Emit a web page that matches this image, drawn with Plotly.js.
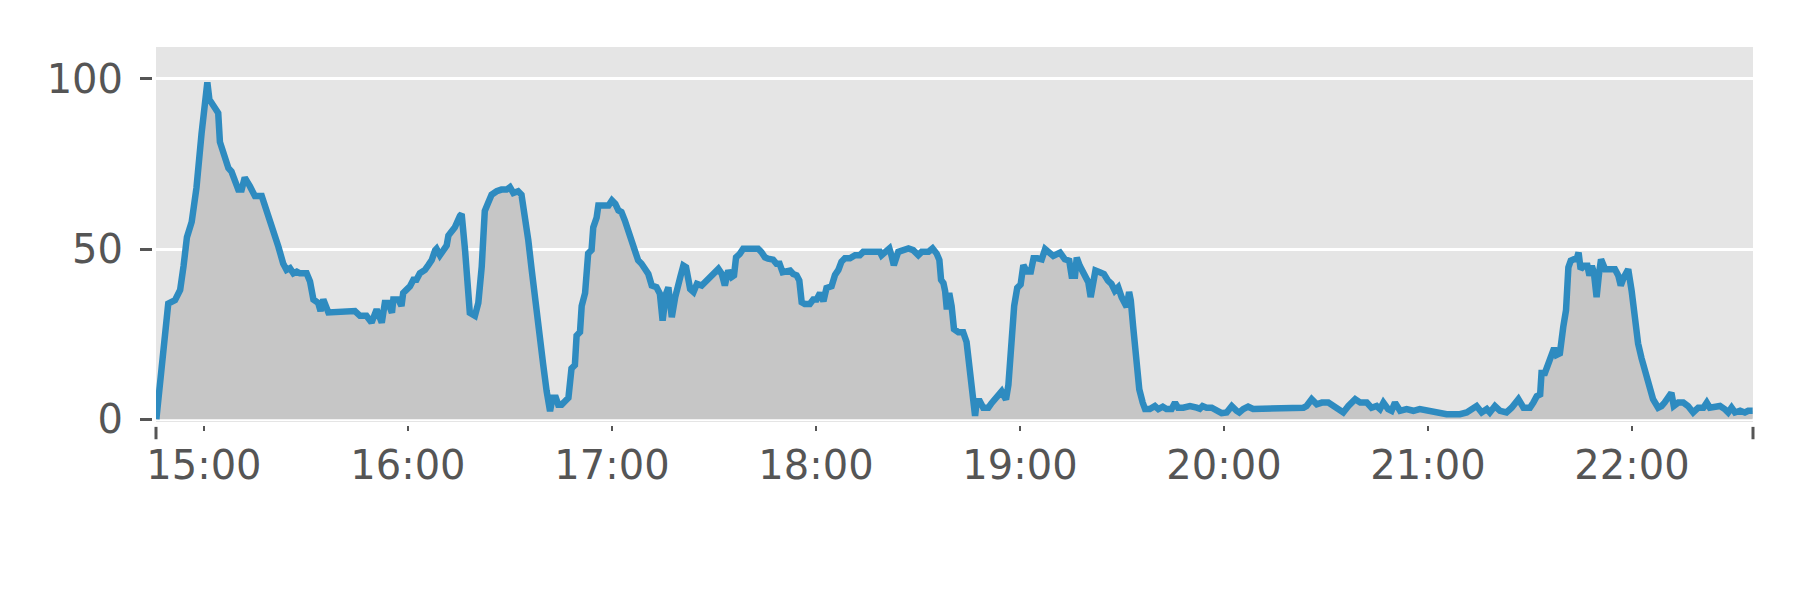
<!DOCTYPE html>
<html>
<head>
<meta charset="utf-8">
<script src="https://cdn.plot.ly/plotly-3.0.1.min.js"></script>
<style>html,body{margin:0;padding:0;background:#fff;}#chart{width:1800px;height:600px;}</style>
</head>
<body>
<div id="chart"></div>
<script>
// minutes after 15:00 (the sample times)
const minutesAfter1500 = [
-14,-12.2,-10.5,-8.5,-7,-6,-5,-3.6,-2.2,-0.7,0.3,1,1.6,2.7,4.2,4.7,6.2,7.2,8.1,10.1,11.1,12,13.5,15,17,17.9,19.4,20.4,20.9,21.9,23.3,24.3,25.3,26.3,27.3,28.2,30.2,31.2,32.2,33.6,34.3,35.1,36.6,39,43,44.4,45.9,47.8,
49.3,50.8,52.3,53.2,54.2,55.3,55.7,57.2,58.1,58.6,59.6,60.6,61.6,62.5,63.5,65,66,67,68,68.4,69.4,70.4,71.4,71.9,72.9,73.8,75.3,75.8,76.8,77.8,78.2,79.7,80.7,81.7,82.6,83.6,84.6,86.1,87.5,89,90,91,92.4,93.4,94.4,95.4,96.4,97.4,98.3,99.3,99.8,100.8,101.8,102.5,103.5,104.2,105.2,106.2,107.2,108.1,109.1,109.6,110.6,111.1,112.1,113,114,114.5,115.5,
116,117,118,119,120,121,121.9,122.8,123.8,124.8,125.8,126.8,127.7,128.7,129.7,130.7,131.7,133.1,134.1,134.9,135.9,136.6,137.6,138.6,140.1,141,141.8,143,144,145,146.4,147.4,148.4,149.3,150.3,151.3,152.3,153.2,154.2,155.2,155.9,156.5,157.6,158.6,159.6,161.5,163,164,165,165.9,167.4,168.4,169.3,170.2,171.4,172.4,173.3,174.3,175.1,175.8,176.7,178.2,
179.2,180.2,181.2,182.2,183.1,184.6,185.6,186.6,187.5,188.5,190,191.5,192.9,193.9,196.4,198.8,199.3,200.3,201.6,202.2,202.9,204.2,205.7,207.2,208.6,210.1,211.1,213.1,214.3,215.5,216.3,216.8,217.5,218,218.5,219.2,219.9,220.6,221.9,223.3,224.3,225.1,225.8,226.3,226.8,227.3,228.2,229.2,230.7,231.7,232.6,233.6,234.6,235.1,235.9,236.6,237.1,237.6,238.3,239.2,240.2,241,242,243.2,244,245.2,
246.4,247.4,248.4,249.8,251.8,253.2,254.5,255.2,256.2,256.7,257.6,258.8,260.1,260.8,261.5,262.2,263.5,264.7,265.9,266.9,267.9,268.9,269.9,270.7,271.4,272.1,272.6,273.3,274.1,275.1,276.1,276.8,278.2,279.7,280.7,282,283.1,284.6,285.6,286.5,288,290,292,292.9,293.7,294.9,296.4,297.8,299.3,300.8,302.3,303.7,304.5,305.7,307.1,308.6,
309.6,311.6,313.6,315.5,317.5,319.4,321.4,323.4,324.3,325.8,327.3,328.8,330.7,332.2,333.6,335.1,336.6,338.6,340.1,342,343.4,344.9,345.9,346.9,348.3,349.3,350.3,351.8,353.7,355.7,357.6,359.6,361.5,363.5,365.5,367.5,369.4,371.4,372.8,374.3,375.8,377.3,378.2,379.7,
381.2,383.1,384.6,386.6,388.1,390,391,392,393,393.4,394.4,395.4,396.4,397.1,397.8,398.8,399.8,400.6,401.3,402,402.9,403.7,404.3,404.9,405.9,406.9,407.5,408.2,408.8,409.6,410.3,410.9,412.1,413.5,415,416,416.7,417.6,418.9,419.9,420.8,421.8,422.8,423.8,424.3,425.3,426.2,427.7,428.7,429.6,430.6,431.6,432.3,433.6,435.1,436.5,438,439.5,441,442,442.9,444.4,445.9,447.4,448.3,449.3,450.3,451.8,453.2,454.2,455.5
];
const values = [
0,17,34,35,38,45,53.5,58,68,84,93,99,94,92.6,90,81.5,76.7,73.8,72.8,67.5,67.5,71,68.5,65.6,65.6,63,58.4,56.4,53.5,50.7,45.8,43.9,44.4,42.9,43.4,42.9,42.9,40.5,35.2,34.2,31.8,35.2,31.4,31.4,31.8,31.8,30.4,30.4,
28.4,32.3,28.4,34.2,34.2,31.3,35.2,35.2,33.3,37.1,38.1,39.1,41,41,42.9,43.9,45.3,46.8,49.7,50.1,48.2,49.7,51.1,54,55.4,56.4,59.8,60.3,49.7,37.1,31.3,30.4,34.2,44.8,61.2,63.6,66,67,67.5,67.5,68.2,66.5,67,66,60.3,52.6,43.9,35.2,27.5,16.9,15.9,8.2,2.4,6.3,6.3,4.3,4.3,5.3,6.3,14.9,15.9,24.6,25.6,33.3,37.1,48.7,49.7,56.4,59.3,
62.8,62.8,62.4,62.8,64.3,63.3,61.4,60.9,58.4,55,52,49.1,46.7,45.7,43.7,42.7,39.3,38.8,36.9,29,36.9,38.8,30,35.9,41.8,45.2,44.7,38.3,37.4,39.8,39.3,40.3,41.3,41.8,42.7,44.2,42.7,39.3,43.7,41.8,42.3,47.6,48.6,50.1,50.1,50.1,50.1,49.1,47.6,47.2,46.9,45.7,45.7,43.2,43.7,43.7,42.7,42.3,40.8,34.4,33.9,33.9,
35.2,35.2,37.1,34.7,38.6,39.1,42.4,43.9,46.3,47.3,47.3,48.2,48.2,49.2,49.2,49.2,48.2,49.2,50.2,48.2,45.3,49.2,49.7,50.2,49.7,48.2,49.2,49.2,50.2,48.7,46.8,41,40,37.6,32.3,37.1,33.3,26.5,25.6,25.6,22.7,15,8.2,4.3,1,5.3,5.3,3.4,3.4,4.8,5.8,6.8,8.2,7.2,5.8,10.1,16.9,25.6,33.3,38.6,39.6,45.3,43.4,43.4,47.3,47.3,
47,50,49,48,49,47,46.6,42.2,42.2,47.5,45.1,42.7,40.3,35.9,41.7,43.7,43.2,42.7,40.7,39.8,37.8,38.8,35.9,34,33,37.4,34.9,27.2,17.5,8.8,4.9,3,3,3.9,3,3.7,3,3,4.9,3.4,3.4,3.9,3.4,3.1,3.9,3.4,3.4,2.5,1.8,2,3.9,2.5,2,3,3.7,3,
3,3.4,3,3.4,3,3.4,3,3.4,3.9,5.9,4.4,4.9,4.9,3.9,3,2,3.9,5.9,4.9,4.9,3.4,3.9,3,4.9,3,2.5,4.9,2.5,3,2.5,3,2.5,2.5,2,1.5,1.5,1.5,2,3,3.9,2,3,2,3.9,
2.5,2,3.4,5.9,3.4,3.4,4.9,6.8,7.3,13.6,13.6,16.5,19.4,20.9,18.9,19.4,27.2,32,44.6,46.6,47,47,49,44.1,45.1,45.1,42.2,45.1,43.1,35.9,42.7,47,44.1,44.1,44.1,42.2,39.3,41.7,44.1,37.8,30.1,22.3,18,14.6,13.6,8.8,5.9,3.4,3.9,4.9,6.3,7.8,3.9,4.9,4.9,3.9,2,3.4,3.4,4.9,3.4,3.9,3.9,2.9,2,3.4,2,2.5,2,2.5,2.5
];
const xRangeTimes = ['2000-01-01 14:45:54', '2000-01-01 22:35:36'];
const yTicks = [0, 50, 100];

function toStamp(m) {
  const total = Math.round((15 * 60 + m) * 60);
  const h = Math.floor(total / 3600), mi = Math.floor((total % 3600) / 60), s = total % 60;
  const p = n => String(n).padStart(2, '0');
  return '2000-01-01 ' + p(h) + ':' + p(mi) + ':' + p(s);
}
const times = minutesAfter1500.map(toStamp);

const font = {family: 'DejaVu Sans, sans-serif', size: 40, color: '#555555'};
const trace = {
  x: times, y: values, type: 'scatter', mode: 'lines',
  line: {color: '#2E8BC0', width: 6.5},
  fill: 'tozeroy', fillcolor: '#C6C6C6',
  hoverinfo: 'skip'
};
const layout = {
  width: 1800, height: 600,
  margin: {l: 156, r: 47, t: 47, b: 178, pad: 0},
  paper_bgcolor: '#ffffff', plot_bgcolor: '#E5E5E5',
  showlegend: false,
  font: font,
  xaxis: {
    type: 'date', range: xRangeTimes,
    tickformat: '%H:%M', dtick: 3600000, tick0: '2000-01-01 15:00:00',
    ticks: 'outside', ticklen: 5, tickwidth: 2, tickcolor: '#555555',
    showgrid: false, zeroline: false,
    showline: true, linecolor: '#ffffff', linewidth: 4,
    tickfont: font
  },
  yaxis: {
    range: [-0.8, 109.4],
    tickvals: yTicks,
    ticks: 'outside', ticklen: 12, tickwidth: 3, tickcolor: '#555555',
    showgrid: true, gridcolor: '#ffffff', gridwidth: 3,
    zeroline: false,
    showline: true, linecolor: '#ffffff', linewidth: 4,
    tickfont: font, ticklabelstandoff: 9
  },
  shapes: [
    {type: 'line', xref: 'paper', yref: 'paper', x0: 0, x1: 0, y0: -0.013, y1: -0.046, line: {color: '#555555', width: 3}},
    {type: 'line', xref: 'paper', yref: 'paper', x0: 1, x1: 1, y0: -0.013, y1: -0.046, line: {color: '#555555', width: 3}}
  ]
};
Plotly.newPlot('chart', [trace], layout, {staticPlot: true});
</script>
</body>
</html>
